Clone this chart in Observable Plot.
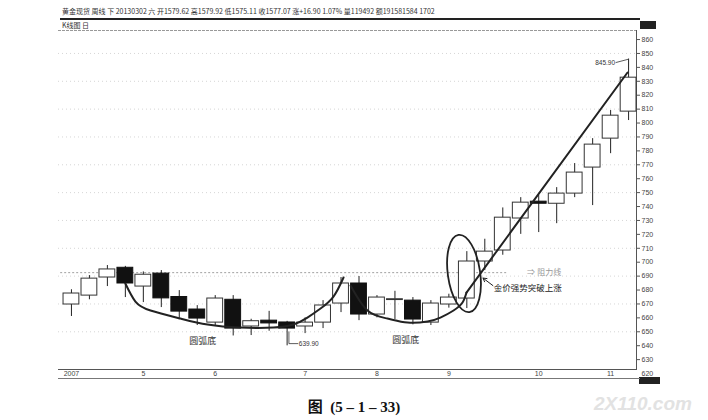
<!DOCTYPE html>
<html><head><meta charset="utf-8">
<script src="https://cdn.jsdelivr.net/npm/d3@7"></script>
<script src="https://cdn.jsdelivr.net/npm/@observablehq/plot@0.6"></script>
<style>
body{margin:0;background:#fff;}
#wrap{position:relative;width:708px;height:420px;overflow:hidden;font-family:"Noto Sans CJK SC","Liberation Sans",sans-serif;}
#chart{position:absolute;left:0;top:0;}
.hdr{position:absolute;font-size:7px;color:#333;white-space:nowrap;line-height:8px;}
.bar{position:absolute;background:#222;}
#caption{position:absolute;left:0;width:708px;top:395px;text-align:center;font:bold 15px "Liberation Serif","Noto Sans CJK SC",serif;color:#111;}
#wm{position:absolute;left:594px;top:393px;font:italic bold 19px "Liberation Sans",sans-serif;color:#e2e2e2;}
</style></head><body>
<div id="wrap">
  <div id="chart"></div>
  <div class="hdr" style="left:62px;top:7px;">黄金现货 周线 下 20130302 六 开1579.62 高1579.92 低1575.11 收1577.07 涨+16.90 1.07% 量119492 额191581584 1702</div>
  <div class="bar" style="left:60px;top:18px;width:580px;height:1.5px;"></div>
  <div class="hdr" style="left:62px;top:21px;">K线图 日</div>
  <div class="bar" style="left:640px;top:21px;width:16px;height:8px;"></div>
  <div class="bar" style="left:639px;top:377px;width:21px;height:7px;"></div>
  <div class="bar" style="left:58px;top:378px;width:582px;height:1px;background:#777;"></div>
  <div id="caption">图 &nbsp;(5 – 1 – 33)</div>
  <div id="wm">2X110.com</div>
</div>
<script>
// weekly candles, 2007 (gold spot)
const open  = [669.6,676.0,689.0,696.0,682.5,691.8,675.0,666.0,656.6,673.0,653.8,658.0,656.7,653.8,656.6,670.3,684.7,662.4,672.8,672.4,656.6,669.6,673.9,700.5,708.4,731.4,743.5,742.0,749.3,768.0,788.8,808.2];
const close = [677.5,688.2,694.8,684.7,691.0,674.0,664.5,659.5,673.9,652.3,657.6,656.0,652.3,656.6,668.9,684.7,662.4,674.6,673.4,658.8,670.3,674.6,700.5,707.6,732.0,742.8,742.0,749.3,764.4,784.5,805.3,832.6];
const high  = [680.2,690.4,697.6,697.0,693.0,694.0,679.6,668.8,676.0,676.0,659.0,664.7,657.5,660.0,672.4,689.0,689.7,676.0,679.1,674.6,672.4,677.0,707.6,716.5,739.0,746.4,748.0,753.6,770.9,788.8,809.0,845.9];
const low   = [661.0,673.0,682.5,674.6,671.0,667.4,659.5,654.5,654.5,647.0,647.3,650.4,639.9,648.7,652.3,663.8,658.0,660.0,658.8,655.0,654.5,667.0,666.7,694.0,705.0,720.0,721.3,727.7,746.4,740.7,778.0,801.8];

const monthTickIdx = [0,4,8,13,17,21,26,30];
const monthLabels  = ["2007","5","6","7","8","9","10","11"];
const yTicks = [630,640,650,660,670,680,690,700,710,720,730,740,750,760,770,780,790,800,810,820,830,840,850,860];
const yBottomTick = [620];
const gridTicks = [650,670,690,710,730,750,770,790,810,830,850];

// annotation paths (week index, price)
const arc1 = [[3.0,684.7],[3.56,671.7],[4.4,665.3],[6.07,659.5],[7.57,655.2],[9.4,653.0],[11.24,653.0],[12.35,655.2],[13.13,660.2],[13.86,666.7],[14.58,675.3],[15.14,689.0]];
const arc2 = [[15.53,683.2],[16.47,665.3],[17.58,659.5],[18.7,656.6],[19.81,657.4],[20.53,660.2],[21.26,665.3],[21.76,671.0],[21.98,678.2]];
const trend = [[21.98,678.2],[30.94,836.3]];
const resistance = {p:692.5, from:-0.6, to:24.3};
const ellipse = {i:21.87, p:691.5, ri:0.9, rp:28};

const candles = open.map((o,i)=>({i, open:o, close:close[i], high:high[i], low:low[i]}));
const ups = candles.filter(d=>d.close>=d.open);
const downs = candles.filter(d=>d.close<d.open);
const pts = a => a.map(([i,p])=>({i,p}));

const plot = Plot.plot({
  width:708, height:388,
  marginLeft:58, marginRight:72, marginTop:30, marginBottom:19,
  x:{type:"linear", domain:[-0.72,31.44], axis:null},
  y:{domain:[622.9,866.5], axis:null},
  style:{fontFamily:"'Liberation Sans','Noto Sans CJK SC',sans-serif", background:"transparent", overflow:"visible", color:"#222"},
  marks:[
    Plot.gridY(gridTicks,{stroke:"#999", strokeOpacity:0.4, strokeDasharray:"1,3"}),
    Plot.ruleY([resistance],{y:"p", x1:"from", x2:"to", stroke:"#888", strokeDasharray:"2,2", strokeWidth:0.8}),
    Plot.text([resistance],{x:d=>d.to+1.6, y:"p", text:()=>"⇒ 阻力线", fill:"#999", fontSize:8, textAnchor:"start", dx:-10}),
    Plot.frame({anchor:"top", stroke:"#999", strokeDasharray:"2,2"}),
    Plot.frame({anchor:"right", stroke:"#555"}),
    Plot.frame({anchor:"bottom", stroke:"#555"}),
    Plot.ruleX(candles,{x:"i", y1:"low", y2:"high", stroke:"#222", strokeWidth:1}),
    Plot.rect(ups,{x1:d=>d.i-0.44, x2:d=>d.i+0.44, y1:"open", y2:"close", fill:"#fff", stroke:"#333", strokeWidth:1}),
    Plot.rect(downs,{x1:d=>d.i-0.44, x2:d=>d.i+0.44, y1:"open", y2:"close", fill:"#111", stroke:"#111", strokeWidth:1}),
    Plot.line(pts(arc1),{x:"i", y:"p", curve:"natural", stroke:"#222", strokeWidth:2}),
    Plot.line(pts(arc2),{x:"i", y:"p", curve:"natural", stroke:"#222", strokeWidth:2}),
    Plot.line(pts(trend),{x:"i", y:"p", stroke:"#222", strokeWidth:2}),
    Plot.text([{i:7.3,p:643}],{x:"i", y:"p", text:()=>"圆弧底", fontSize:9, fill:"#333", fontFamily:"'Noto Sans CJK SC',sans-serif"}),
    Plot.text([{i:18.6,p:644.3}],{x:"i", y:"p", text:()=>"圆弧底", fontSize:9, fill:"#333", fontFamily:"'Noto Sans CJK SC',sans-serif"}),
    Plot.text([{i:23.5,p:681.5}],{x:"i", y:"p", text:()=>"金价强势突破上涨", fontSize:8.5, fill:"#222", textAnchor:"start", fontFamily:"'Noto Sans CJK SC',sans-serif"}),
    Plot.arrow([{x1:23.45,y1:683.2,x2:22.9,y2:688.6}],{x1:"x1",y1:"y1",x2:"x2",y2:"y2", stroke:"#222", strokeWidth:1, headLength:6}),
    Plot.line([{i:12.1,p:650},{i:12.1,p:641.5},{i:12.6,p:641.5}],{x:"i", y:"p", stroke:"#333", strokeWidth:0.8}),
    Plot.text([{i:12.65,p:641.5}],{x:"i", y:"p", text:()=>"639.90", fontSize:6.5, fill:"#333", textAnchor:"start"}),
    Plot.line([{i:30.3,p:843.5},{i:31,p:845.9}],{x:"i", y:"p", stroke:"#333", strokeWidth:0.8}),
    Plot.text([{i:30.25,p:843.3}],{x:"i", y:"p", text:()=>"845.90", fontSize:6.5, fill:"#333", textAnchor:"end"}),
    Plot.axisY(yTicks,{anchor:"right", tickSize:3, tickPadding:2, fontSize:7, fill:"#444", stroke:"#555"}),
    Plot.text(yBottomTick,{y:d=>d, frameAnchor:"right", dx:5, text:d=>String(d), fontSize:7, fill:"#444", textAnchor:"start"}),
    Plot.axisX(monthTickIdx,{anchor:"bottom", tickSize:0, tickPadding:2, fontSize:7, fill:"#444", tickFormat:d=>monthLabels[monthTickIdx.indexOf(d)]})
  ]
});
document.getElementById("chart").appendChild(plot);

// breakout ellipse, placed through the plot's scales
const sx = plot.scale("x"), sy = plot.scale("y");
const cx = sx.apply(ellipse.i), cy = sy.apply(ellipse.p);
const rx = Math.abs(sx.apply(ellipse.i+ellipse.ri)-cx), ry = Math.abs(sy.apply(ellipse.p+ellipse.rp)-cy);
d3.select(plot).append("ellipse")
  .attr("cx",cx).attr("cy",cy).attr("rx",rx).attr("ry",ry)
  .attr("transform",`rotate(-8 ${cx} ${cy})`)
  .attr("fill","none").attr("stroke","#222").attr("stroke-width",1.8);
</script>
</body></html>
